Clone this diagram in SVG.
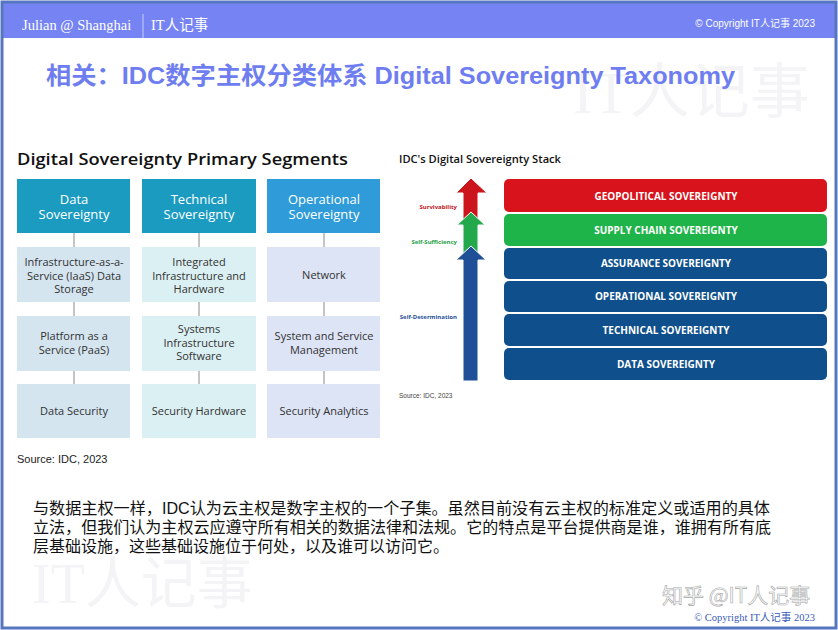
<svg xmlns="http://www.w3.org/2000/svg" width="838" height="630" viewBox="0 0 838 630">
<style>
.hdr{font-family:"Liberation Serif","Noto Sans CJK SC",serif;fill:#fff}
.wm{font-family:"Liberation Serif","Noto Sans CJK SC",serif;fill:#f4f4f6}
.os{font-family:"Open Sans","Noto Sans",sans-serif}
.hbox{fill:#1b9bc0}
.ht{font-family:"Open Sans",sans-serif;font-size:13px;fill:#fff;text-anchor:middle}
.ct{font-family:"Open Sans",sans-serif;font-size:11px;fill:#333;text-anchor:middle}
.c1{fill:#d4e5f0}.c2{fill:#dbf0f2}.c3{fill:#dde4f5}
.bar{font-family:"Open Sans",sans-serif;font-size:10px;font-weight:700;fill:#fff;text-anchor:middle}
.lbl{font-family:"Open Sans",sans-serif;font-size:6px;font-weight:700;text-anchor:end}
.conn line{stroke:#8a8a8a;stroke-width:1}
</style>
<rect x="0" y="0" width="838" height="630" fill="#fff"/>
<!-- watermarks -->
<text class="wm" x="573" y="113" font-size="60">IT人记事</text>
<text class="wm" x="32" y="603" font-size="56">IT人记事</text>
<!-- header bar -->
<rect x="2" y="2" width="834" height="36" fill="#7584f2"/>
<text class="hdr" x="22" y="30" font-size="14.5">Julian @ Shanghai</text>
<line x1="143" y1="14" x2="143" y2="38" stroke="#c8ccf8" stroke-width="1"/>
<text class="hdr" x="151" y="30" font-size="14.5">IT人记事</text>
<text x="815" y="27" font-size="10" text-anchor="end" font-family="Liberation Sans,'Noto Sans CJK SC',sans-serif" fill="#fff">© Copyright  IT人记事  2023</text>
<!-- title -->
<text x="46" y="84" font-size="24" font-weight="700" fill="#6e7ef0" font-family="Liberation Sans,'Noto Sans CJK SC',sans-serif" textLength="689" lengthAdjust="spacingAndGlyphs">相关：IDC数字主权分类体系 Digital Sovereignty Taxonomy</text>
<!-- left chart -->
<text class="os" x="17" y="165" font-size="17" font-weight="600" fill="#111" textLength="331" lengthAdjust="spacingAndGlyphs">Digital Sovereignty Primary Segments</text>
<g class="conn" id="connectors">
<line x1="74" y1="233" x2="74" y2="247"/><line x1="74" y1="302" x2="74" y2="316"/><line x1="74" y1="371" x2="74" y2="384"/>
<line x1="199" y1="233" x2="199" y2="247"/><line x1="199" y1="302" x2="199" y2="316"/><line x1="199" y1="371" x2="199" y2="384"/>
<line x1="324" y1="233" x2="324" y2="247"/><line x1="324" y1="302" x2="324" y2="316"/><line x1="324" y1="371" x2="324" y2="384"/>
</g>
<g id="data-sov"><rect class="hbox" x="17" y="179" width="113" height="54"/><text class="ht" x="74" y="204">Data</text><text class="ht" x="74" y="219">Sovereignty</text></g>
<g id="tech-sov"><rect class="hbox" x="142" y="179" width="114" height="54"/><text class="ht" x="199" y="204">Technical</text><text class="ht" x="199" y="219">Sovereignty</text></g>
<g id="op-sov"><rect x="267" y="179" width="113" height="54" fill="#2f9bd8"/><text class="ht" x="324" y="204">Operational</text><text class="ht" x="324" y="219">Sovereignty</text></g>
<g id="iaas"><rect class="c1" x="17" y="247" width="113" height="55"/><text class="ct" x="74" y="266">Infrastructure-as-a-</text><text class="ct" x="74" y="279.5">Service (IaaS) Data</text><text class="ct" x="74" y="293">Storage</text></g>
<g id="iih"><rect class="c2" x="142" y="247" width="114" height="55"/><text class="ct" x="199" y="266">Integrated</text><text class="ct" x="199" y="279.5">Infrastructure and</text><text class="ct" x="199" y="293">Hardware</text></g>
<g id="network"><rect class="c3" x="267" y="247" width="113" height="55"/><text class="ct" x="324" y="279">Network</text></g>
<g id="paas"><rect class="c1" x="17" y="316" width="113" height="55"/><text class="ct" x="74" y="340">Platform as a</text><text class="ct" x="74" y="354">Service (PaaS)</text></g>
<g id="sis"><rect class="c2" x="142" y="316" width="114" height="55"/><text class="ct" x="199" y="333">Systems</text><text class="ct" x="199" y="346.5">Infrastructure</text><text class="ct" x="199" y="360">Software</text></g>
<g id="ssm"><rect class="c3" x="267" y="316" width="113" height="55"/><text class="ct" x="324" y="340">System and Service</text><text class="ct" x="324" y="354">Management</text></g>
<g id="dsec"><rect class="c1" x="17" y="384" width="113" height="54"/><text class="ct" x="74" y="415">Data Security</text></g>
<g id="shw"><rect class="c2" x="142" y="384" width="114" height="54"/><text class="ct" x="199" y="415">Security Hardware</text></g>
<g id="san"><rect class="c3" x="267" y="384" width="113" height="54"/><text class="ct" x="324" y="415">Security Analytics</text></g>
<text x="17" y="463" font-size="11" fill="#222" font-family="Liberation Sans,sans-serif">Source: IDC, 2023</text>
<!-- right chart -->
<text class="os" x="399" y="163" font-size="11" font-weight="600" fill="#111" textLength="162" lengthAdjust="spacingAndGlyphs">IDC's Digital Sovereignty Stack</text>
<g id="arrows" stroke="#fff" stroke-width="1">
<polygon fill="#cc141d" points="471,178 487,193 478,193 478,222 463,222 463,193 456,193"/>
<polygon fill="#23a84b" points="471,212 485,225 478,225 478,256 463,256 463,225 457,225"/>
<polygon fill="#1f4f97" points="471,246 486,260 478,260 478,381 463,381 463,260 456,260"/>
</g>
<text class="lbl" x="457" y="209" fill="#c0141b">Survivability</text>
<text class="lbl" x="457" y="244" fill="#1f9e45">Self-Sufficiency</text>
<text class="lbl" x="457" y="319" fill="#1f4f97">Self-Determination</text>
<g id="geo"><rect x="504" y="179" width="323" height="33" rx="5" fill="#d8131b"/><text class="bar" x="666" y="199.5">GEOPOLITICAL SOVEREIGNTY</text></g>
<g id="supply"><rect x="504" y="214" width="323" height="32" rx="5" fill="#1fb449"/><text class="bar" x="666" y="233.5">SUPPLY CHAIN SOVEREIGNTY</text></g>
<g id="assurance"><rect x="504" y="248" width="323" height="31" rx="5" fill="#0f4f8b"/><text class="bar" x="666" y="267">ASSURANCE SOVEREIGNTY</text></g>
<g id="operational"><rect x="504" y="281" width="323" height="31" rx="5" fill="#0f4f8b"/><text class="bar" x="666" y="300">OPERATIONAL SOVEREIGNTY</text></g>
<g id="technical"><rect x="504" y="314" width="323" height="32" rx="5" fill="#0f4f8b"/><text class="bar" x="666" y="333.5">TECHNICAL SOVEREIGNTY</text></g>
<g id="data"><rect x="504" y="348" width="323" height="32" rx="5" fill="#0f4f8b"/><text class="bar" x="666" y="367.5">DATA SOVEREIGNTY</text></g>
<text x="399" y="398" font-size="6.5" fill="#444" font-family="Liberation Sans,sans-serif">Source: IDC, 2023</text>
<!-- paragraph -->
<g font-family="Liberation Sans,'Noto Sans CJK SC',sans-serif" font-size="16" fill="#111">
<text x="33" y="514" textLength="737" lengthAdjust="spacingAndGlyphs">与数据主权一样，IDC认为云主权是数字主权的一个子集。虽然目前没有云主权的标准定义或适用的具体</text>
<text x="33" y="533" textLength="738" lengthAdjust="spacingAndGlyphs">立法，但我们认为主权云应遵守所有相关的数据法律和法规。它的特点是平台提供商是谁，谁拥有所有底</text>
<text x="33" y="552">层基础设施，这些基础设施位于何处，以及谁可以访问它。</text>
</g>
<!-- bottom right watermark & copyright -->
<text x="662" y="603" font-size="21" fill="#fff" stroke="#a8a8a8" stroke-width="0.6" font-family="'Noto Sans CJK SC',sans-serif">知乎 @IT人记事</text>
<text x="815" y="621" font-size="10.5" text-anchor="end" fill="#3a5bb8" font-family="'Liberation Serif','Noto Sans CJK SC',serif">© Copyright  IT人记事  2023</text>
<!-- outer frame -->
<rect x="2" y="2" width="834" height="626" fill="none" stroke="#5676bf" stroke-width="3"/>
</svg>
